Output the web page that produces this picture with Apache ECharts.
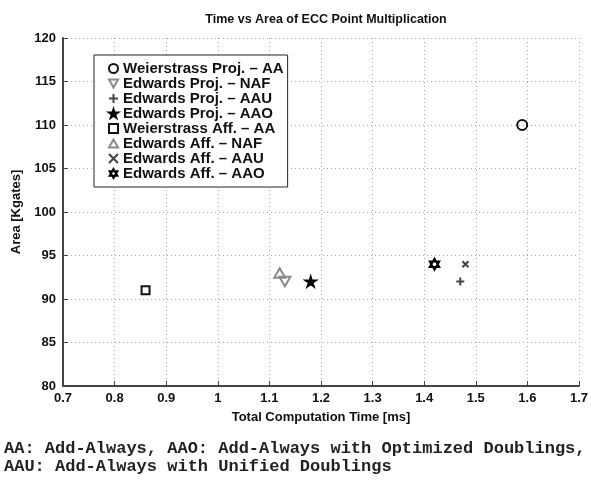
<!DOCTYPE html>
<html>
<head>
<meta charset="utf-8">
<script src="https://cdn.jsdelivr.net/npm/echarts@6/dist/echarts.min.js"></script>
<style>
  html, body { margin: 0; padding: 0; background: #fff; }
  #chart { width: 591px; height: 482px; }
</style>
</head>
<body>
<div id="chart"></div>
<script>
// legend names, in the order of the legend box
var names = [
  'Weierstrass Proj. \u2013 AA',
  'Edwards Proj. \u2013 NAF',
  'Edwards Proj. \u2013 AAU',
  'Edwards Proj. \u2013 AAO',
  'Weierstrass Aff. \u2013 AA',
  'Edwards Aff. \u2013 NAF',
  'Edwards Aff. \u2013 AAU',
  'Edwards Aff. \u2013 AAO'
];
// computation time [ms]
var timeMs = [1.59, 1.13, 1.47, 1.18, 0.86, 1.12, 1.48, 1.42];
// area [Kgates]
var areaKg = [110, 92, 92, 92, 91, 93, 94, 94];

var starPath = 'path://M10,0 L12.25,6.91 L19.51,6.91 L13.63,11.18 L15.88,18.09 L10,13.82 L4.12,18.09 L6.37,11.18 L0.49,6.91 L7.75,6.91 Z';
var hexPath = 'path://M10,0 L18.66,15 L1.34,15 Z M10,20 L1.34,5 L18.66,5 Z';
var plusPath = 'path://M5,0 L5,10 M0,5 L10,5';
var crossPath = 'path://M0,0 L10,10 M10,0 L0,10';
var downTri = 'path://M0,0 L10,0 L5,8.66 Z';
var upTri = 'path://M5,0 L10,8.66 L0,8.66 Z';

var marks = [
  {symbol: 'circle', size: 10, fill: 'rgba(0,0,0,0)', stroke: '#111'},
  {symbol: downTri, size: 11, fill: 'rgba(0,0,0,0)', stroke: '#8a8a8a'},
  {symbol: plusPath, size: 8, fill: 'rgba(0,0,0,0)', stroke: '#444'},
  {symbol: starPath, size: 10, fill: '#000', stroke: '#000'},
  {symbol: 'rect', size: 8, fill: 'rgba(0,0,0,0)', stroke: '#111'},
  {symbol: upTri, size: 11, fill: 'rgba(0,0,0,0)', stroke: '#8a8a8a'},
  {symbol: crossPath, size: 6, fill: 'rgba(0,0,0,0)', stroke: '#444'},
  {symbol: hexPath, size: 11, fill: 'rgba(0,0,0,0)', stroke: '#000'}
];

var series = [];
for (var i = 0; i < names.length; i++) {
  series.push({
    name: names[i],
    type: 'scatter',
    symbol: marks[i].symbol,
    symbolSize: marks[i].size,
    symbolKeepAspect: true,
    itemStyle: {
      color: marks[i].fill,
      borderColor: marks[i].stroke,
      borderWidth: 2,
      opacity: 1
    },
    emphasis: {disabled: true},
    data: [[timeMs[i], areaKg[i]]]
  });
}

var myChart = echarts.init(document.getElementById('chart'));
var option = {
  backgroundColor: '#fff',
  animation: false,
  title: {
    text: 'Time vs Area of ECC Point Multiplication',
    left: 321,
    textAlign: 'center',
    top: 8,
    textStyle: {fontFamily: 'Liberation Sans', fontSize: 12.5, fontWeight: 'bold', color: '#111'}
  },
  legend: {
    orient: 'vertical',
    left: 94,
    top: 55,
    padding: [6, 4, 6, 14],
    itemGap: 0,
    itemWidth: 9,
    itemHeight: 9,
    backgroundColor: '#fff',
    borderColor: '#222',
    borderWidth: 1,
    borderRadius: 0,
    selectedMode: false,
    textStyle: {fontFamily: 'Liberation Sans', fontSize: 15, lineHeight: 15, fontWeight: 'bold', color: '#111'},
    data: names
  },
  grid: {left: 63, right: 11, top: 38, bottom: 96, containLabel: false},
  xAxis: {
    type: 'value',
    min: 0.7,
    max: 1.7,
    interval: 0.1,
    name: 'Total Computation Time [ms]',
    nameLocation: 'middle',
    nameGap: 25,
    nameTextStyle: {fontFamily: 'Liberation Sans', fontSize: 13, fontWeight: 'bold', color: '#111'},
    axisLine: {onZero: false, lineStyle: {color: '#444', width: 2}},
    axisTick: {inside: true, length: 5, lineStyle: {color: '#444'}},
    axisLabel: {
      margin: 6,
      fontFamily: 'Liberation Sans', fontSize: 13, fontWeight: 'bold', color: '#111',
      formatter: function (v) { return String(+v.toFixed(1)); }
    },
    splitLine: {lineStyle: {type: [1, 3], color: '#aaa', width: 1}}
  },
  yAxis: {
    type: 'value',
    min: 80,
    max: 120,
    interval: 5,
    name: 'Area [Kgates]',
    nameLocation: 'middle',
    nameGap: 36,
    nameTextStyle: {fontFamily: 'Liberation Sans', fontSize: 13, fontWeight: 'bold', color: '#111'},
    axisLine: {onZero: false, lineStyle: {color: '#444', width: 2}},
    axisTick: {inside: true, length: 5, lineStyle: {color: '#444'}},
    axisLabel: {margin: 7, fontFamily: 'Liberation Sans', fontSize: 13, fontWeight: 'bold', color: '#111'},
    splitLine: {lineStyle: {type: [1, 3], color: '#aaa', width: 1}}
  },
  graphic: [
    {type: 'text', left: 4, top: 440,
     style: {text: 'AA: Add-Always, AAO: Add-Always with Optimized Doublings,', font: 'bold 17px "Liberation Mono"', fill: '#222'}},
    {type: 'text', left: 4, top: 458,
     style: {text: 'AAU: Add-Always with Unified Doublings', font: 'bold 17px "Liberation Mono"', fill: '#222'}}
  ],
  series: series
};
myChart.setOption(option);
</script>
</body>
</html>
